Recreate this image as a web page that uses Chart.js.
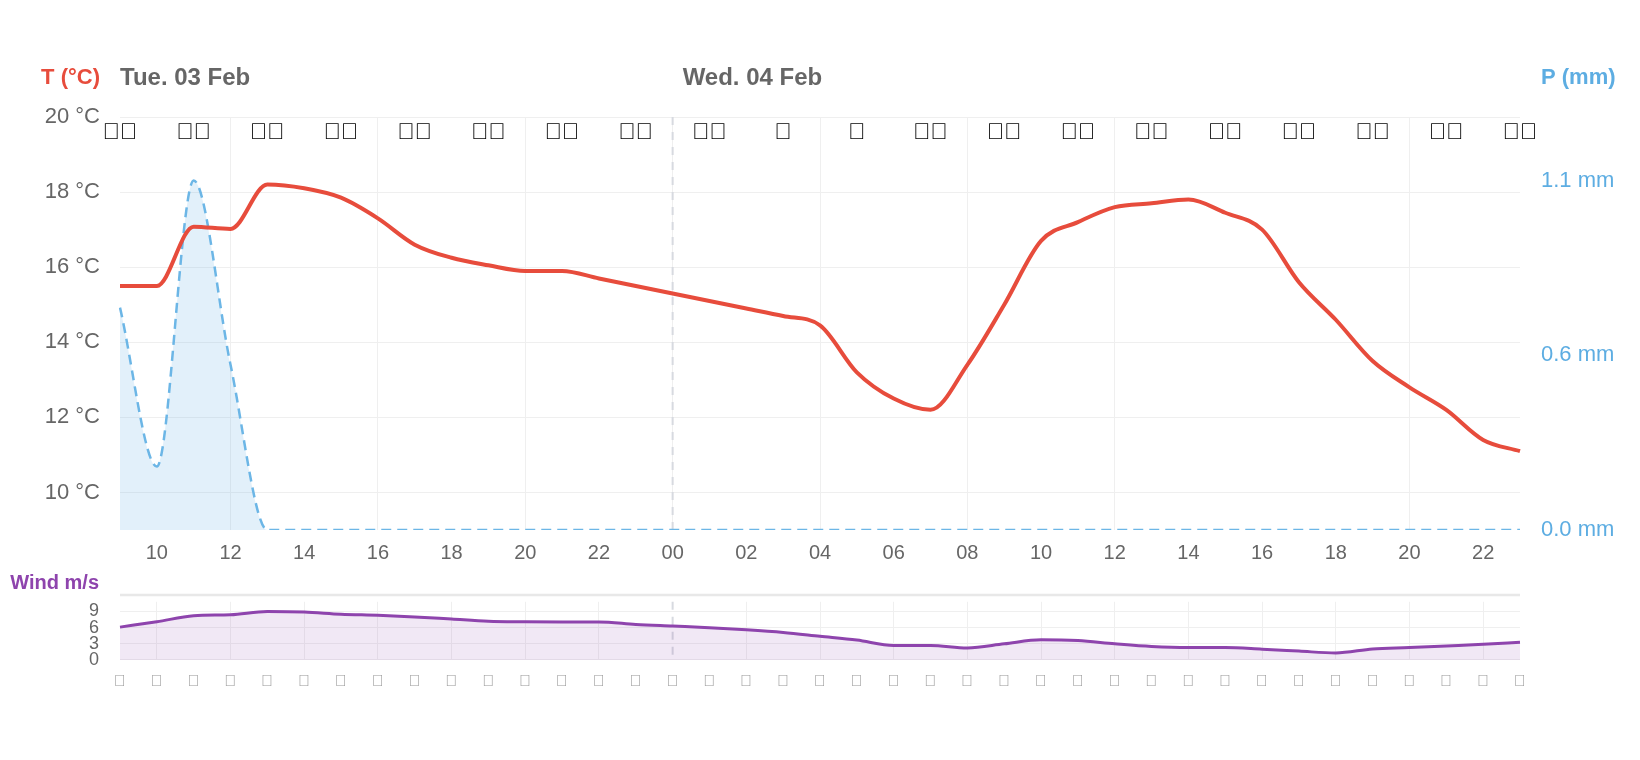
<!DOCTYPE html>
<html>
<head>
<meta charset="utf-8">
<script src="https://cdn.jsdelivr.net/npm/chart.js@4.4.1/dist/chart.umd.min.js"></script>
<style>
  html, body { margin: 0; padding: 0; background: #fff; }
  #wrap { position: relative; width: 1640px; height: 760px; }
  #mainBox { position: absolute; left: 0; top: 0; width: 1640px; height: 570px; }
  #windBox { position: absolute; left: 0; top: 570px; width: 1640px; height: 190px; }
</style>
</head>
<body>
<div id="wrap">
  <div id="mainBox"><canvas id="mainChart" width="1640" height="570"></canvas></div>
  <div id="windBox"><canvas id="windChart" width="1640" height="190"></canvas></div>
</div>
<script>
// hours from Tue 03 Feb 09:00 to Wed 04 Feb 23:00
var hourLabels = ['09','10','11','12','13','14','15','16','17','18','19','20','21','22','23',
  '00','01','02','03','04','05','06','07','08','09','10','11','12','13','14','15','16','17','18','19','20','21','22','23'];

var temps = [15.5, 15.5, 17.08, 17.02, 18.2, 18.1, 17.85, 17.3, 16.6, 16.25, 16.05, 15.9, 15.9, 15.7, 15.5,
  15.3, 15.1, 14.9, 14.7, 14.45, 13.2, 12.5, 12.2, 13.4, 15.0, 16.7, 17.2, 17.6, 17.7, 17.8, 17.45, 17.0, 15.6, 14.6, 13.5, 12.8, 12.2, 11.4, 11.1];

var precip = [0.7, 0.2, 1.1, 0.52, 0, 0, 0, 0, 0, 0, 0, 0, 0, 0, 0,
  0, 0, 0, 0, 0, 0, 0, 0, 0, 0, 0, 0, 0, 0, 0, 0, 0, 0, 0, 0, 0, 0, 0, 0];

var winds = [6.1, 7.1, 8.2, 8.4, 9.0, 8.9, 8.5, 8.3, 8.0, 7.6, 7.2, 7.1, 7.05, 7.05, 6.6,
  6.3, 6.0, 5.6, 5.1, 4.4, 3.7, 2.7, 2.7, 2.25, 3.0, 3.75, 3.6, 3.0, 2.5, 2.3, 2.3, 2.0, 1.65, 1.3, 2.05, 2.3, 2.6, 2.9, 3.3];

// weather icon-font glyphs every second hour (09, 11, 13 ...)
var weatherIcons = ['\uf008\uf019','\uf008\uf019','\uf002\uf013','\uf002\uf013','\uf002\uf013','\uf002\uf013','\uf086\uf013','\uf086\uf013',
  '\uf086\uf013','\uf02e','\uf02e','\uf086\uf013','\uf002\uf013','\uf002\uf013','\uf002\uf013','\uf002\uf013','\uf002\uf013','\uf002\uf013','\uf086\uf013','\uf086\uf013'];

// wind direction glyphs per hour
var windDirs = ['\uf058','\uf058','\uf058','\uf058','\uf058','\uf058','\uf058','\uf058','\uf058','\uf058','\uf058','\uf058','\uf058','\uf058','\uf058',
  '\uf058','\uf058','\uf058','\uf058','\uf058','\uf058','\uf058','\uf058','\uf058','\uf058','\uf058','\uf058','\uf058','\uf058','\uf058','\uf058','\uf058','\uf058','\uf058','\uf058','\uf058','\uf058','\uf058','\uf058'];

var tempTicks = [10, 12, 14, 16, 18, 20];
var precipTicks = [0, 0.55, 1.1];
var windTicks = [0, 3, 6, 9];
var dayLabels = ['Tue. 03 Feb', 'Wed. 04 Feb'];
var midnightIndex = 15;

var FONT = '"Liberation Sans", Arial, sans-serif';
var GRID = '#efefef';
var RED = '#e74c3c';
var BLUE = '#5dade2';
var PURPLE = '#8e44ad';

function gridColor(ctx) {
  // lines only on labelled (even) hours, midnight drawn apart
  if (ctx.index === midnightIndex) return 'rgba(0,0,0,0)';
  return ctx.index % 2 === 1 ? GRID : 'rgba(0,0,0,0)';
}

var midnightLine = {
  id: 'midnightLine',
  beforeDatasetsDraw: function(chart) {
    var x = chart.scales.x.getPixelForValue(midnightIndex);
    var a = chart.chartArea;
    var c = chart.ctx;
    c.save();
    c.strokeStyle = '#d7dae0';
    c.lineWidth = 2;
    c.setLineDash([8, 7]);
    c.beginPath();
    c.moveTo(x, a.top);
    c.lineTo(x, a.bottom);
    c.stroke();
    c.restore();
  }
};

var mainHeader = {
  id: 'mainHeader',
  afterDraw: function(chart) {
    var c = chart.ctx;
    var xs = chart.scales.x;
    var a = chart.chartArea;
    c.save();
    c.textBaseline = 'middle';
    c.font = 'bold 22px ' + FONT;
    c.fillStyle = RED;
    c.textAlign = 'right';
    c.fillText('T (°C)', a.left - 20, 78);
    c.fillStyle = BLUE;
    c.textAlign = 'left';
    c.fillText('P (mm)', a.right + 21, 78);
    c.font = 'bold 24px ' + FONT;
    c.fillStyle = '#666';
    c.fillText(dayLabels[0], a.left, 78);
    c.fillText(dayLabels[1], xs.getPixelForValue(midnightIndex) + 10, 78);
    c.font = '23px ' + FONT;
    c.fillStyle = '#000';
    c.textAlign = 'center';
    for (var k = 0; k < weatherIcons.length; k++) {
      c.fillText(weatherIcons[k], xs.getPixelForValue(k * 2), 133);
    }
    c.restore();
  }
};

var windHeader = {
  id: 'windHeader',
  afterDraw: function(chart) {
    var c = chart.ctx;
    var a = chart.chartArea;
    c.save();
    c.font = 'bold 20px ' + FONT;
    c.fillStyle = PURPLE;
    c.textAlign = 'right';
    c.textBaseline = 'middle';
    c.fillText('Wind m/s', a.left - 21, 13);
    c.strokeStyle = '#e8e8e8';
    c.lineWidth = 2.5;
    c.beginPath();
    c.moveTo(a.left, 25);
    c.lineTo(a.right, 25);
    c.stroke();
    c.restore();
  }
};

new Chart(document.getElementById('mainChart').getContext('2d'), {
  type: 'line',
  data: {
    labels: hourLabels,
    datasets: [{
      label: 'T',
      data: temps,
      yAxisID: 'y',
      borderColor: RED,
      borderWidth: 4,
      pointRadius: 0,
      cubicInterpolationMode: 'monotone',
      fill: false
    }, {
      label: 'P',
      data: precip,
      yAxisID: 'y1',
      borderColor: '#6cb6e6',
      backgroundColor: 'rgba(93,173,226,0.18)',
      borderWidth: 2.5,
      borderDash: [10, 6],
      pointRadius: 0,
      cubicInterpolationMode: 'monotone',
      fill: 'origin'
    }]
  },
  options: {
    responsive: false,
    animation: false,
    layout: { padding: { top: 117, left: 0, right: 0, bottom: 0 } },
    plugins: { legend: { display: false }, tooltip: { enabled: false } },
    scales: {
      x: {
        type: 'category',
        border: { display: false },
        grid: { color: gridColor, drawTicks: false },
        ticks: {
          autoSkip: false, maxRotation: 0, padding: 11,
          color: '#666', font: { family: FONT, size: 20 },
          callback: function(v, i) { return i % 2 === 1 ? hourLabels[i] : null; }
        },
        afterFit: function(s) { s.height = 40; }
      },
      y: {
        position: 'left',
        min: 9,
        max: 20,
        border: { display: false },
        grid: { color: GRID, drawTicks: false },
        ticks: {
          autoSkip: false, padding: 20, color: '#666', font: { family: FONT, size: 22 },
          callback: function(v) { return v + ' °C'; }
        },
        afterBuildTicks: function(s) { s.ticks = tempTicks.map(function(v) { return { value: v }; }); },
        afterFit: function(s) { s.width = 120; }
      },
      y1: {
        position: 'right',
        min: 0,
        max: 1.3,
        border: { display: false },
        grid: { drawOnChartArea: false, drawTicks: false },
        ticks: {
          autoSkip: false, padding: 21, color: BLUE, font: { family: FONT, size: 22 },
          callback: function(v) { return v.toFixed(1) + ' mm'; }
        },
        afterBuildTicks: function(s) { s.ticks = precipTicks.map(function(v) { return { value: v }; }); },
        afterFit: function(s) { s.width = 120; }
      }
    }
  },
  plugins: [midnightLine, mainHeader]
});

new Chart(document.getElementById('windChart').getContext('2d'), {
  type: 'line',
  data: {
    labels: hourLabels,
    datasets: [{
      label: 'Wind',
      data: winds,
      borderColor: PURPLE,
      backgroundColor: 'rgba(142,68,173,0.12)',
      borderWidth: 3,
      pointRadius: 0,
      cubicInterpolationMode: 'monotone',
      fill: 'origin'
    }]
  },
  options: {
    responsive: false,
    animation: false,
    layout: { padding: { top: 30, left: 0, right: 120, bottom: 0 } },
    plugins: { legend: { display: false }, tooltip: { enabled: false } },
    scales: {
      x: {
        type: 'category',
        border: { display: false },
        grid: { color: gridColor, drawTicks: false },
        ticks: {
          autoSkip: false, maxRotation: 0, padding: 12,
          color: '#999', font: { family: FONT, size: 16 },
          callback: function(v, i) { return windDirs[i]; }
        },
        afterFit: function(s) { s.height = 100; }
      },
      y: {
        min: 0,
        max: 10.8,
        border: { display: false },
        grid: { color: GRID, drawTicks: false },
        ticks: {
          autoSkip: false, padding: 21, color: '#666', font: { family: FONT, size: 18 }
        },
        afterBuildTicks: function(s) { s.ticks = windTicks.map(function(v) { return { value: v }; }); },
        afterFit: function(s) { s.width = 120; }
      }
    }
  },
  plugins: [midnightLine, windHeader]
});
</script>
</body>
</html>
